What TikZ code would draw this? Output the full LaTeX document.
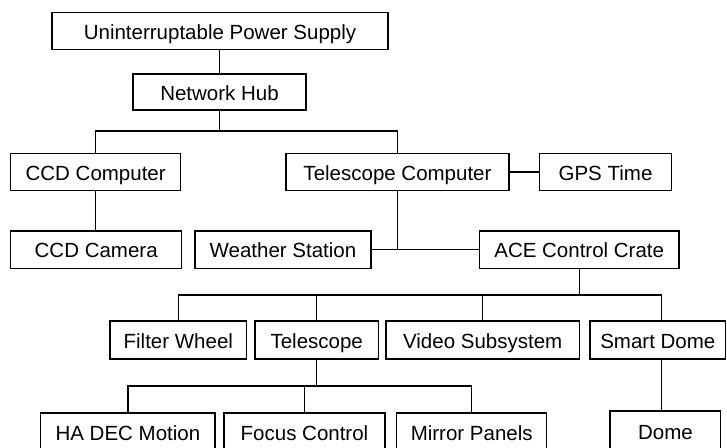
\documentclass[tikz,border=0pt]{standalone}
\usepackage{fontspec}
\setmainfont{Liberation Sans}
\begin{document}
\begin{tikzpicture}[x=1pt,y=-1pt,
  box/.style={draw,line width=1.2pt,inner sep=0pt,minimum height=37.4pt,
    text height=17pt,text depth=0.7pt,
    font=\fontsize{20.5}{24}\selectfont},
  link/.style={line width=1.2pt}]
\useasboundingbox (0,0) rectangle (727,447);
\clip (0,0) rectangle (727,447);
% row 1-2
\node[box,minimum width=336pt,minimum height=36.6pt] (ups) at (220,31) {Uninterruptable Power Supply};
\node[box,minimum width=173pt,minimum height=36pt] (hub) at (219.5,92) {Network Hub};
% row 3
\node[box,minimum width=170pt] (ccdc) at (95.7,172) {CCD Computer};
\node[box,minimum width=223pt] (tc) at (397.5,172) {Telescope Computer};
\node[box,minimum width=132.4pt] (gps) at (605.5,172) {GPS Time};
% row 4
\node[box,minimum width=171pt] (ccdcam) at (96.2,249.7) {CCD Camera};
\node[box,minimum width=176pt] (ws) at (283,249.7) {Weather Station};
\node[box,minimum width=199.7pt] (ace) at (579.2,249.7) {ACE Control Crate};
% row 5
\node[box,minimum width=136.5pt,minimum height=38pt] (fw) at (178.3,340) {Filter Wheel};
\node[box,minimum width=123.3pt,minimum height=38pt] (tel) at (316.7,340) {Telescope};
\node[box,minimum width=193.3pt,minimum height=38pt] (video) at (482.7,340) {Video Subsystem};
\node[box,minimum width=135.5pt,minimum height=38pt] (sd) at (657.8,340) {Smart Dome};
% row 6
\node[box,minimum width=174.3pt,minimum height=38pt] (hadec) at (127.9,432) {HA DEC Motion};
\node[box,minimum width=161pt,minimum height=38pt] (focus) at (304.5,432) {Focus Control};
\node[box,minimum width=150pt,minimum height=38pt] (mirror) at (471.7,432) {Mirror Panels};
\node[box,minimum width=110.7pt,minimum height=40pt] (dome) at (665.4,431) {Dome};
% bus coordinates
\coordinate (b1) at (219.5,131);
\coordinate (b2) at (578.3,295);
\coordinate (b3) at (317.3,386);
\coordinate (sdtop) at ([xshift=3.9pt]sd.north);
\coordinate (sdbot) at ([xshift=3.9pt]sd.south);
% connectors
\draw[link] (hub.north |- ups.south) -- (hub.north);
\draw[link] (hub.south) -- (b1);
\draw[link] (ccdc.north) |- (tc.north |- b1) -- (tc.north);
\draw[link] (ccdc.south) -- (ccdc.south |- ccdcam.north);
\draw[link] (tc.east) -- (gps.west);
\draw[link] (ws.east) -- (ace.west);
\draw[link] (tc.south) -- (tc.south |- ws.east);
\draw[link] (ace.south) -- (ace.south |- b2);
\draw[link] (fw.north) |- (sdtop |- b2) -- (sdtop);
\draw[link] (tel.north) -- (tel.north |- b2);
\draw[link] (video.north) -- (video.north |- b2);
\draw[link] (tel.south) -- (tel.south |- b3);
\draw[link] (hadec.north) |- (mirror.north |- b3) -- (mirror.north);
\draw[link] (focus.north) -- (focus.north |- b3);
\draw[link] (sdbot) -- (sdbot |- dome.north);
\end{tikzpicture}
\end{document}
